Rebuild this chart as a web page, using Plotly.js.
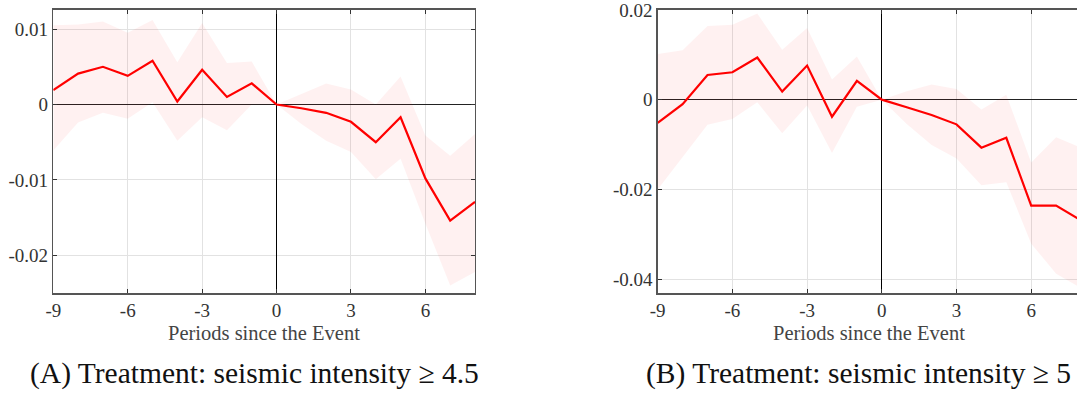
<!DOCTYPE html>
<html>
<head>
<meta charset="utf-8">
<script src="https://cdn.plot.ly/plotly-3.0.1.min.js"></script>
<style>
html,body{margin:0;padding:0;overflow:hidden;background:#fff;width:1077px;height:394px;}
#chart{width:1085px;height:394px;}
</style>
</head>
<body>
<div id="chart"></div>
<script>
// Periods since the event
const periods = [-9,-8,-7,-6,-5,-4,-3,-2,-1,0,1,2,3,4,5,6,7,8];

// Panel A: seismic intensity >= 4.5
const estA   = [0.0019,0.0041,0.0050,0.0038,0.0058,0.0004,0.0046,0.0010,0.0028,0,-0.0005,-0.0011,-0.0023,-0.0050,-0.0017,-0.0098,-0.0154,-0.0129];
const upperA = [0.0105,0.0106,0.0110,0.0095,0.0112,0.0056,0.0108,0.0055,0.0057,0,0.0014,0.0028,0.0020,0.0000,0.0037,-0.0041,-0.0068,-0.0039];
const lowerA = [-0.0061,-0.0024,-0.0011,-0.0019,0.0003,-0.0048,-0.0017,-0.0034,0.0000,0,-0.0026,-0.0048,-0.0063,-0.0099,-0.0072,-0.0158,-0.0240,-0.0222];

// Panel B: seismic intensity >= 5
const estB   = [-0.0052,-0.0010,0.0055,0.0061,0.0094,0.0018,0.0076,-0.0038,0.0042,0,-0.0017,-0.0034,-0.0055,-0.0107,-0.0085,-0.0236,-0.0236,-0.0269];
const upperB = [0.0102,0.0110,0.0164,0.0167,0.0192,0.0111,0.0160,0.0045,0.0096,0,0.0019,0.0034,0.0024,-0.0022,0.0011,-0.0140,-0.0084,-0.0107];
const lowerB = [-0.0200,-0.0129,-0.0056,-0.0043,-0.0006,-0.0075,-0.0013,-0.0119,-0.0016,0,-0.0054,-0.0101,-0.0131,-0.0191,-0.0184,-0.0321,-0.0388,-0.0420];

const xTickVals = [-9,-6,-3,0,3,6];
const xTickText = ['-9','-6','-3','0','3','6'];
const yTickValsA = [0.01,0,-0.01,-0.02];
const yTickTextA = ['0.01','0','-0.01','-0.02'];
const yTickValsB = [0.02,0,-0.02,-0.04];
const yTickTextB = ['0.02','0','-0.02','-0.04'];

const xTitle = 'Periods since the Event';
const captionA = '(A) Treatment: seismic intensity \u2265 4.5';
const captionB = '(B) Treatment: seismic intensity \u2265 5';

const bandColor = 'rgba(255,0,0,0.055)';
const lineColor = '#ff0000';

function panel(x, up, lo, est, xa, ya){
  return [
    {x:x, y:up, xaxis:xa, yaxis:ya, mode:'lines', line:{width:0,color:bandColor}, hoverinfo:'skip', showlegend:false},
    {x:x, y:lo, xaxis:xa, yaxis:ya, mode:'lines', line:{width:0,color:bandColor}, fill:'tonexty', fillcolor:bandColor, hoverinfo:'skip', showlegend:false},
    {x:x, y:est, xaxis:xa, yaxis:ya, mode:'lines', line:{width:2.2,color:lineColor}, showlegend:false}
  ];
}

const data = [].concat(
  panel(periods, upperA, lowerA, estA, 'x', 'y'),
  panel(periods, upperB, lowerB, estB, 'x2', 'y2')
);

const W = 1085, H = 394;
const yDom = [1-293/H, 1-9.5/H];
const SERIF = '"Liberation Serif", serif';
const tickFont = {family:SERIF, size:19, color:'#333'};
const titleFont = {family:SERIF, size:20.5, color:'#444'};

function xaxis(dom){
  return {
    domain: dom, range:[-9,8], tickmode:'array', tickvals:xTickVals, ticktext:xTickText,
    ticks:'inside', ticklen:4, tickcolor:'#333', showline:true, linecolor:'#555', linewidth:1.6, mirror:'ticks',
    showgrid:true, gridcolor:'#e2e2e2', gridwidth:1,
    zeroline:true, zerolinecolor:'#000', zerolinewidth:1.2, ticklabeloverflow:'allow',
    tickfont: tickFont, fixedrange:true
  };
}
function yaxis(range, vals, txt, anchor){
  return {
    domain: yDom, range:range, tickmode:'array', tickvals:vals, ticktext:txt, anchor:anchor,
    ticks:'inside', ticklen:4, tickcolor:'#333', showline:true, linecolor:'#555', linewidth:1.4, mirror:'ticks',
    showgrid:true, gridcolor:'#e2e2e2', gridwidth:1,
    zeroline:true, zerolinecolor:'#222', zerolinewidth:1.5, ticklabeloverflow:'allow',
    tickfont: tickFont, fixedrange:true
  };
}

const domA = [53.3/W, 475/W];
const domB = [657.7/W, 1081/W];

const layout = {
  width: W, height: H,
  margin:{l:0,r:0,t:0,b:0},
  paper_bgcolor:'#fff', plot_bgcolor:'#fff',
  showlegend:false,
  xaxis: Object.assign(xaxis(domA), {anchor:'y'}),
  yaxis: yaxis([-0.025, 0.0126], yTickValsA, yTickTextA, 'x'),
  xaxis2: Object.assign(xaxis(domB), {anchor:'y2'}),
  yaxis2: yaxis([-0.0431, 0.0201], yTickValsB, yTickTextB, 'x2'),
  annotations:[
    {text:xTitle, xref:'paper', yref:'paper', x:(domA[0]+domA[1])/2, y:1-333/H, xanchor:'center', yanchor:'middle', showarrow:false, font:titleFont},
    {text:xTitle, xref:'paper', yref:'paper', x:(domB[0]+domB[1])/2, y:1-333/H, xanchor:'center', yanchor:'middle', showarrow:false, font:titleFont},
    {text:captionA, xref:'paper', yref:'paper', x:254/W, y:1-373/H, xanchor:'center', yanchor:'middle', showarrow:false,
     font:{family:SERIF, size:29.5, color:'#111'}},
    {text:captionB, xref:'paper', yref:'paper', x:858/W, y:1-373/H, xanchor:'center', yanchor:'middle', showarrow:false,
     font:{family:SERIF, size:29.5, color:'#111'}}
  ]
};

Plotly.newPlot('chart', data, layout, {staticPlot:true, displayModeBar:false});
</script>
</body>
</html>
